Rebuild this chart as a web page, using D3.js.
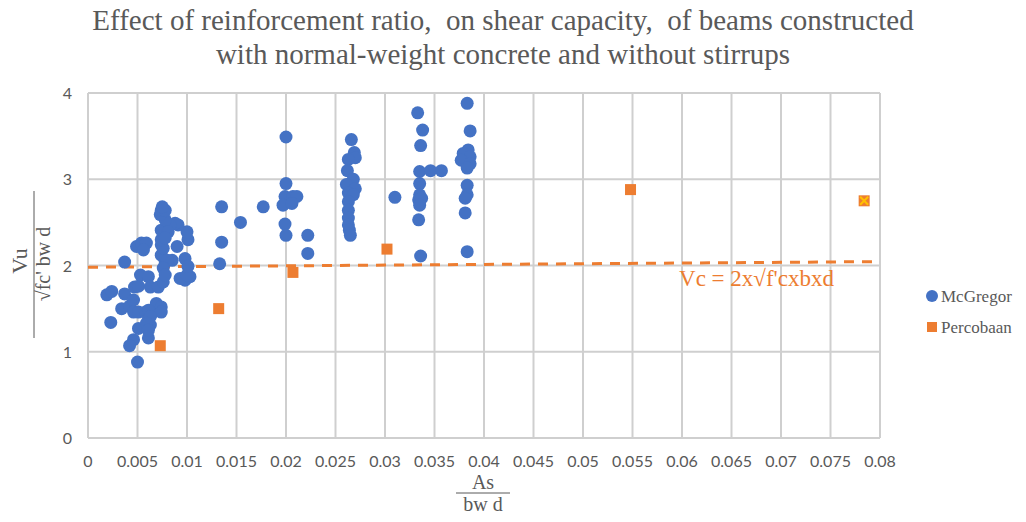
<!DOCTYPE html>
<html>
<head>
<meta charset="utf-8">
<script src="https://cdn.jsdelivr.net/npm/d3@7.9.0/dist/d3.min.js"></script>
<style>
  body { margin: 0; background: #fff; }
  svg { display: block; }
  .tick-label { font-family: Lato, "Open Sans", sans-serif; font-size: 16px; fill: #595959; }
  .serif { font-family: "Liberation Serif", "DejaVu Serif", serif; fill: #595959; }
</style>
</head>
<body>
<svg width="1026" height="522"></svg>
<script>
// McGregor data (As / bw d, Vu / sqrt(fc') bw d)
const mcgX = [
  0.0019, 0.0024, 0.0023, 0.0037, 0.0034, 0.0037, 0.0042, 0.0046, 0.0046, 0.0047,
  0.0051, 0.0049, 0.0054, 0.0059, 0.0056, 0.0053, 0.0061, 0.0051, 0.0058, 0.0063,
  0.0066, 0.0069, 0.0074, 0.0074, 0.0061, 0.0063, 0.0051, 0.0061, 0.0046, 0.0042,
  0.0050, 0.0071, 0.0076, 0.0098, 0.0103, 0.0093, 0.0100, 0.0098, 0.0101, 0.0085,
  0.0078, 0.0074, 0.0074, 0.0090, 0.0076, 0.0074, 0.0074, 0.0101, 0.0100, 0.0091,
  0.0088, 0.0083, 0.0078, 0.0073, 0.0074, 0.0078, 0.0075, 0.0080, 0.0076, 0.0078,
  0.0081, 0.0078, 0.0061, 0.0063, 0.0059, 0.0061,
  0.0135, 0.0177, 0.0154, 0.0135, 0.0133,
  0.0200, 0.0200, 0.0199, 0.0207, 0.0211, 0.0197, 0.0206, 0.0199, 0.0200, 0.0222, 0.0222,
  0.0266, 0.0269, 0.0270, 0.0263, 0.0262, 0.0268, 0.0261, 0.0270, 0.0263, 0.0268,
  0.0263, 0.0263, 0.0263, 0.0263, 0.0264, 0.0265,
  0.0310,
  0.0333, 0.0338, 0.0336, 0.0335, 0.0346, 0.0357, 0.0335, 0.0335, 0.0334, 0.0337,
  0.0335, 0.0334, 0.0336,
  0.0383, 0.0386, 0.0384, 0.0379, 0.0386, 0.0377, 0.0386, 0.0383, 0.0383, 0.0383,
  0.0381, 0.0381, 0.0383
];
const mcgY = [
  1.66, 1.70, 1.34, 2.04, 1.50, 1.67, 1.53, 1.60, 1.46, 1.75,
  1.76, 2.22, 2.26, 2.26, 2.18, 1.89, 1.87, 1.46, 1.46, 1.75,
  1.46, 1.56, 1.52, 1.46, 1.37, 1.31, 1.27, 1.16, 1.14, 1.07,
  0.88, 1.75, 1.81, 1.83, 1.87, 1.85, 1.89, 2.08, 1.99, 2.06,
  2.04, 2.12, 2.24, 2.22, 2.20, 2.30, 2.41, 2.30, 2.39, 2.47,
  2.49, 2.47, 2.53, 2.59, 2.64, 2.64, 2.68, 2.06, 1.97, 1.89,
  2.39, 2.32, 1.48, 1.41, 1.33, 1.25,
  2.68, 2.68, 2.50, 2.27, 2.02,
  3.49, 2.95, 2.80, 2.80, 2.80, 2.70, 2.72, 2.48, 2.35, 2.35, 2.14,
  3.46, 3.31, 3.25, 3.23, 3.10, 3.00, 2.94, 2.89, 2.84, 2.82,
  2.74, 2.64, 2.55, 2.47, 2.41, 2.35,
  2.79,
  3.77, 3.57, 3.39, 3.09, 3.10, 3.10, 2.95, 2.82, 2.76, 2.78,
  2.70, 2.53, 2.11,
  3.88, 3.56, 3.34, 3.30, 3.26, 3.22, 3.18, 3.13, 2.93, 2.82,
  2.78, 2.61, 2.16
];

// Percobaan (test) data
const percX = [0.0073, 0.0132, 0.0207, 0.0302, 0.0548, 0.0784];
const percY = [1.07, 1.50, 1.92, 2.19, 2.88, 2.75];

// extra highlighted point (gold cross)
const markX = [0.0784];
const markY = [2.75];

// Vc = 2 sqrt(f'c) bw d trend line end points
const trendX = [0, 0.08];
const trendY = [1.98, 2.045];

const xTicks = d3.range(0, 0.0801, 0.005);
const yTicks = [0, 1, 2, 3, 4];

const titleLines = [
  "Effect of reinforcement ratio, on shear capacity, of beams constructed",
  "with normal-weight concrete and without stirrups"
];
const legendNames = ["McGregor", "Percobaan"];

const colors = { mcg: "#4472C4", perc: "#ED7D31", mark: "#FFC000" };

const svg = d3.select("svg"),
      margin = {top: 93, right: 146, bottom: 84, left: 88},
      width = +svg.attr("width") - margin.left - margin.right,
      height = +svg.attr("height") - margin.top - margin.bottom,
      g = svg.append("g").attr("transform", `translate(${margin.left},${margin.top})`);

const x = d3.scaleLinear().domain([0, 0.08]).range([0, width]);
const y = d3.scaleLinear().domain([0, 4]).range([height, 0]);

// grid
g.append("g").selectAll("line.vg").data(xTicks).join("line")
  .attr("x1", d => x(d)).attr("x2", d => x(d))
  .attr("y1", 0).attr("y2", height)
  .attr("stroke", "#cfcfcf").attr("stroke-width", 2);
g.append("g").selectAll("line.hg").data(yTicks).join("line")
  .attr("x1", 0).attr("x2", width)
  .attr("y1", d => y(d)).attr("y2", d => y(d))
  .attr("stroke", "#cfcfcf").attr("stroke-width", 2);

// tick labels
const fmt = d => String(+d.toFixed(3));
g.append("g").selectAll("text").data(xTicks).join("text")
  .attr("class", "tick-label")
  .attr("text-anchor", "middle")
  .attr("x", d => x(d))
  .attr("y", height + 29)
  .text(fmt);
g.append("g").selectAll("text").data(yTicks).join("text")
  .attr("class", "tick-label")
  .attr("text-anchor", "end")
  .attr("x", -16)
  .attr("y", d => y(d) + 6)
  .text(d => d);

// trend line
g.append("line")
  .attr("x1", x(trendX[0])).attr("y1", y(trendY[0]))
  .attr("x2", x(trendX[1])).attr("y2", y(trendY[1]))
  .attr("stroke", colors.perc)
  .attr("stroke-width", 3)
  .attr("stroke-dasharray", "10 8");

g.append("text")
  .attr("class", "serif")
  .attr("x", x(0.0597))
  .attr("y", y(1.76))
  .style("font-size", "23px")
  .style("fill", colors.perc)
  .text("Vc = 2x\u221Af'cxbxd");

// McGregor points
const mcg = mcgX.map((d, i) => ({x: d, y: mcgY[i]}));
g.append("g").selectAll("circle").data(mcg).join("circle")
  .attr("cx", d => x(d.x))
  .attr("cy", d => y(d.y))
  .attr("r", 6.5)
  .attr("fill", colors.mcg);

// Percobaan points
const perc = percX.map((d, i) => ({x: d, y: percY[i]}));
g.append("g").selectAll("rect").data(perc).join("rect")
  .attr("x", d => x(d.x) - 5.5)
  .attr("y", d => y(d.y) - 5.5)
  .attr("width", 11).attr("height", 11)
  .attr("fill", colors.perc);

const marks = markX.map((d, i) => ({x: d, y: markY[i]}));
g.append("g").selectAll("path").data(marks).join("path")
  .attr("d", d => `M${x(d.x) - 4},${y(d.y) - 4}L${x(d.x) + 4},${y(d.y) + 4}M${x(d.x) - 4},${y(d.y) + 4}L${x(d.x) + 4},${y(d.y) - 4}`)
  .attr("stroke", colors.mark)
  .attr("stroke-width", 2);

// title
svg.append("g").selectAll("text").data(titleLines).join("text")
  .attr("class", "serif")
  .attr("text-anchor", "middle")
  .attr("x", 503)
  .attr("y", (d, i) => 30 + i * 34)
  .style("font-size", "29px")
  .style("white-space", "pre")
  .text(d => d.replace(/, /g, ",  "));

// y axis label (fraction, rotated)
const yl = svg.append("g").attr("transform", "translate(34,264) rotate(-90)");
yl.append("text").attr("class", "serif").attr("text-anchor", "middle")
  .attr("x", 3).attr("y", -7).style("font-size", "22px").text("Vu");
yl.append("line").attr("x1", -74).attr("x2", 73).attr("y1", 0).attr("y2", 0)
  .attr("stroke", "#595959").attr("stroke-width", 1);
yl.append("text").attr("class", "serif").attr("text-anchor", "middle")
  .attr("x", 0).attr("y", 16).style("font-size", "20px").text("\u221Afc' bw d");

// x axis label (fraction)
const xl = svg.append("g").attr("transform", "translate(483,493)");
xl.append("text").attr("class", "serif").attr("text-anchor", "middle")
  .attr("y", -4).style("font-size", "20px").text("As");
xl.append("line").attr("x1", -27).attr("x2", 27).attr("y1", 0).attr("y2", 0)
  .attr("stroke", "#595959").attr("stroke-width", 1);
xl.append("text").attr("class", "serif").attr("text-anchor", "middle")
  .attr("y", 18).style("font-size", "20px").text("bw d");

// legend
const legend = svg.append("g").attr("transform", "translate(932,296)");
legend.append("circle").attr("cx", 0).attr("cy", 0).attr("r", 6).attr("fill", colors.mcg);
legend.append("rect").attr("x", -5).attr("y", 26).attr("width", 10).attr("height", 10).attr("fill", colors.perc);
legend.selectAll("text").data(legendNames).join("text")
  .attr("class", "serif")
  .attr("x", 9)
  .attr("y", (d, i) => 6 + i * 31)
  .style("font-size", "17px")
  .text(d => d);
</script>
</body>
</html>
